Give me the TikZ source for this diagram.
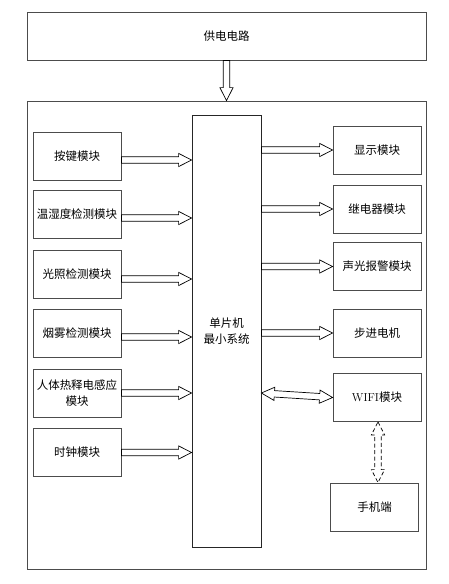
\documentclass[tikz,border=0pt]{standalone}
\usepackage{fontspec}
\newfontfamily\cjk{Noto Sans CJK SC}
\usetikzlibrary{calc}

\tikzset{
	box/.style={draw=black!70, line width=0.8pt, fill=white, align=center, inner sep=1pt,
		minimum width=88pt, minimum height=48pt, font=\cjk\fontsize{11.5}{16}\selectfont},
	% 空心单向箭头 (起点 -> 终点)
	hollow/.style={draw, line width=0.7pt, fill=white, to path={
		($(\tikztostart)!\shaftW!90:(\tikztotarget)$)
		-- ($(\tikztotarget)!\headL!(\tikztostart)!\shaftW!90:(\tikztotarget)$)
		-- ($(\tikztotarget)!\headL!(\tikztostart)!\headW!90:(\tikztotarget)$)
		-- (\tikztotarget)
		-- ($(\tikztotarget)!\headL!(\tikztostart)!\headW!-90:(\tikztotarget)$)
		-- ($(\tikztotarget)!\headL!(\tikztostart)!\shaftW!-90:(\tikztotarget)$)
		-- ($(\tikztostart)!\shaftW!-90:(\tikztotarget)$) -- cycle}},
	% 空心双向箭头
	hollowboth/.style={draw, line width=0.7pt, fill=white, to path={
		(\tikztostart)
		-- ($(\tikztostart)!\headL!(\tikztotarget)!\headW!90:(\tikztotarget)$)
		-- ($(\tikztostart)!\headL!(\tikztotarget)!\shaftW!90:(\tikztotarget)$)
		-- ($(\tikztotarget)!\headL!(\tikztostart)!\shaftW!90:(\tikztotarget)$)
		-- ($(\tikztotarget)!\headL!(\tikztostart)!\headW!90:(\tikztotarget)$)
		-- (\tikztotarget)
		-- ($(\tikztotarget)!\headL!(\tikztostart)!\headW!-90:(\tikztotarget)$)
		-- ($(\tikztotarget)!\headL!(\tikztostart)!\shaftW!-90:(\tikztotarget)$)
		-- ($(\tikztostart)!\headL!(\tikztotarget)!\shaftW!-90:(\tikztotarget)$)
		-- ($(\tikztostart)!\headL!(\tikztotarget)!\headW!-90:(\tikztotarget)$)
		-- cycle}},
}

\begin{document}
\begin{tikzpicture}[x=1pt, y=-1pt]
	% ==================================================
	% 1. 参数设置
	% ==================================================
	\def\shaftW{3.2pt} % 箭身半宽
	\def\headW{6.6pt}  % 箭头半宽
	\def\headL{13pt}   % 箭头长度
	% ==================================================
	\useasboundingbox (0,0) rectangle (449,584);

	% 2. 外框与单片机
	\node[box, minimum width=399pt, minimum height=48pt] (power) at (226.5,36) {供电电路};
	\node[box, minimum width=399pt, minimum height=468pt] (sys) at (226.5,335) {};
	\node[box, draw=black!85, minimum width=69pt, minimum height=432pt] (mcu) at (226.5,331) {单片机\\最小系统};

	% 3. 输入模块 (左侧), \dy: 箭头相对框中心的偏移
	\foreach \name/\y/\dy/\txt in {key/156/-4/按键模块, th/214/-4/温湿度检测模块, light/274/-5/光照检测模块,
		smoke/333/-4/烟雾检测模块, pir/393/0/{人体热释电感应\\模块}, clock/452.5/0/时钟模块} {
		\node[box] (\name) at (77,\y) {\txt};
		\coordinate (\name-out) at ([yshift=\dy pt]\name.east);
		\draw[hollow] (\name-out) to (mcu.west |- \name-out);
	}

	% 4. 输出模块 (右侧)
	\foreach \name/\y/\txt in {lcd/150/显示模块, relay/209/继电器模块, alarm/266.5/声光报警模块,
		motor/333/步进电机} {
		\node[box] (\name) at (377,\y) {\txt};
		\draw[hollow] (mcu.east |- \name.west) to (\name.west);
	}

	% 5. 无线通信
	\node[box] (wifi) at (377,397.5) {{\rmfamily WIFI}模块};
	\node[box] (phone) at (374.5,507) {手机端};
	\draw[hollowboth] (mcu.east |- pir.east) to (wifi.west);
	\coordinate (wifi-down) at ([xshift=1pt]wifi.south);
	\draw[hollowboth, dash pattern=on 4pt off 2.5pt] (wifi-down) to (wifi-down |- phone.north);

	% 6. 供电
	\draw[hollow] (power.south) to (sys.north);
\end{tikzpicture}
\end{document}
